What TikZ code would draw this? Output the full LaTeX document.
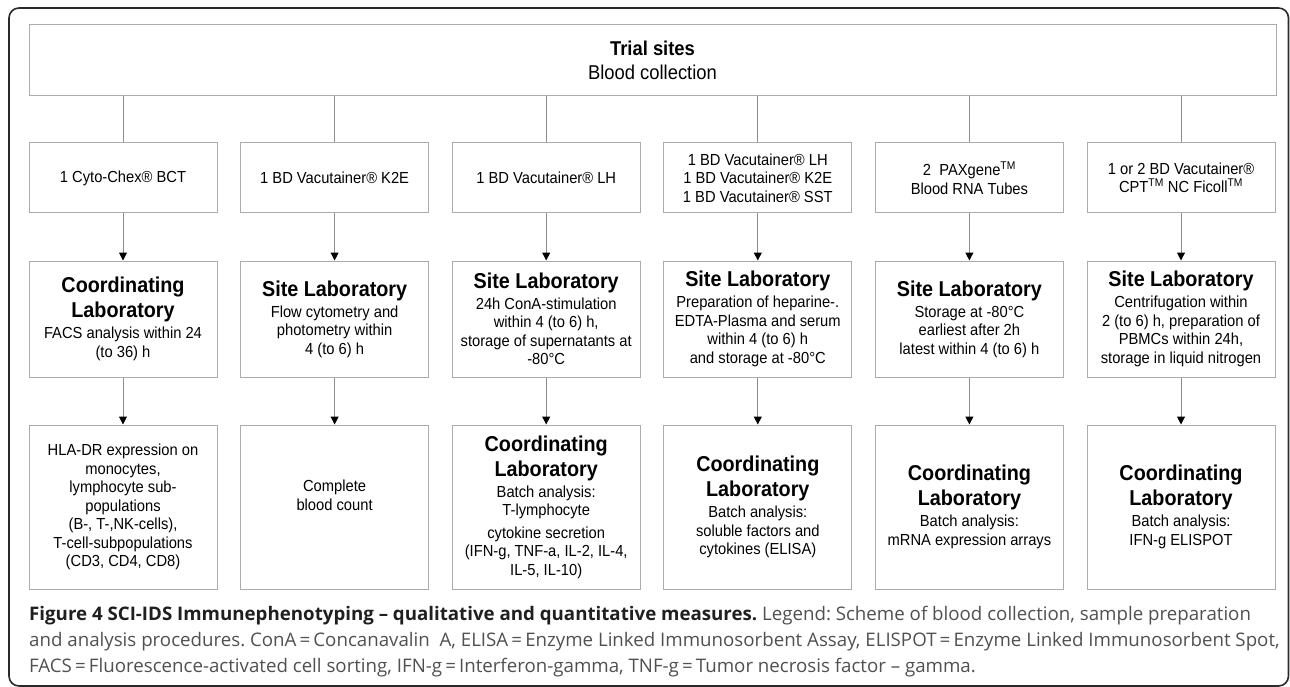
\documentclass[tikz,border=0pt]{standalone}
\usepackage{fontspec}
\setmainfont{Liberation Sans}[FakeStretch=0.92]
\newfontfamily\capfont{Open Sans}
\usetikzlibrary{arrows.meta}
\definecolor{boxgray}{HTML}{ABABAB}
\definecolor{linegray}{HTML}{8C8C8C}
\definecolor{framec}{HTML}{2A2A2A}
\definecolor{capc}{HTML}{505050}
\newcommand\hd[1]{{\fontsize{21.5}{24}\selectfont\bfseries #1}}
\frenchspacing
\tikzset{
 box/.style={draw=boxgray, line width=1pt, minimum width=188pt, inner sep=0pt, align=center, font=\fontsize{16}{18.5}\selectfont},
 rowone/.style={box, minimum height=70pt},
 rowtwo/.style={box, minimum height=116pt},
 rowthree/.style={box, minimum height=164pt},
 conn/.style={draw=linegray, line width=1pt},
 arr/.style={conn, -{Triangle[width=8pt,length=8pt,color=black]}},
 capline/.style={anchor=base west, inner sep=0pt, font=\capfont\fontsize{18.7}{22}\selectfont\frenchspacing, text=capc},
}
\begin{document}
\begin{tikzpicture}[x=1pt,y=-1pt]
\useasboundingbox (0,0) rectangle (1290,687);
\draw[framec, line width=1.6pt, rounded corners=10pt] (9,8) rectangle (1288.5,686);
\node[box, minimum width=1247pt, minimum height=71pt, font=\fontsize{20}{24}\selectfont] (top) at (652.5,60.5) {\textbf{Trial sites}\\Blood collection};
% row 1
\node[rowone] (s1) at (123,178) {1 Cyto-Chex® BCT};
\node[rowone] (s2) at (334.6,178) {1 BD Vacutainer® K2E};
\node[rowone] (s3) at (546.2,178) {1 BD Vacutainer® LH};
\node[rowone] (s4) at (757.8,178) {1 BD Vacutainer® LH\\1 BD Vacutainer® K2E\\1 BD Vacutainer® SST};
\node[rowone] (s5) at (969.4,178) {2\ \ PAXgene\textsuperscript{TM}\\Blood RNA Tubes};
\node[rowone] (s6) at (1181,178) {1 or 2 BD Vacutainer®\\CPT\textsuperscript{TM} NC Ficoll\textsuperscript{TM}};
% row 2
\node[rowtwo] (p1) at (123,319) {\hd{Coordinating}\\[3.8pt]\hd{Laboratory}\\[2.5pt]FACS analysis within 24\\(to 36) h};
\node[rowtwo] (p2) at (334.6,319) {\hd{Site Laboratory}\\[2.5pt]Flow cytometry and\\photometry within\\4 (to 6) h};
\node[rowtwo] (p3) at (546.2,319) {\hd{Site Laboratory}\\[2.5pt]24h ConA-stimulation\\within 4 (to 6) h,\\storage of supernatants at\\-80°C};
\node[rowtwo] (p4) at (757.8,319) {\hd{Site Laboratory}\\[2.5pt]Preparation of heparine-.\\EDTA-Plasma and serum\\within 4 (to 6) h\\and storage at -80°C};
\node[rowtwo] (p5) at (969.4,319) {\hd{Site Laboratory}\\[2.5pt]Storage at -80°C\\earliest after 2h\\latest within 4 (to 6) h};
\node[rowtwo] (p6) at (1181,319) {\hd{Site Laboratory}\\[2.5pt]Centrifugation within\\2 (to 6) h, preparation of\\PBMCs within 24h,\\storage in liquid nitrogen};
% row 3
\node[rowthree] (a1) at (123,507) {HLA-DR expression on\\monocytes,\\lymphocyte sub-\\populations\\(B-, T-,NK-cells),\\T-cell-subpopulations\\(CD3, CD4, CD8)};
\node[rowthree] (a2) at (334.6,507) {Complete\\blood count\\\strut};
\node[rowthree] (a3) at (546.2,507) {\hd{Coordinating}\\[3.8pt]\hd{Laboratory}\\[2.5pt]Batch analysis:\\T-lymphocyte\\[3.8pt]cytokine secretion\\(IFN-g, TNF-a, IL-2, IL-4,\\IL-5, IL-10)};
\node[rowthree] (a4) at (757.8,507) {\hd{Coordinating}\\[3.8pt]\hd{Laboratory}\\[2.5pt]Batch analysis:\\soluble factors and\\cytokines (ELISA)};
\node[rowthree] (a5) at (969.4,507) {\hd{Coordinating}\\[3.8pt]\hd{Laboratory}\\[2.5pt]Batch analysis:\\mRNA expression arrays};
\node[rowthree] (a6) at (1181,507) {\hd{Coordinating}\\[3.8pt]\hd{Laboratory}\\[2.5pt]Batch analysis:\\IFN-g ELISPOT};
% connectors
\foreach \i in {1,...,6}{
  \draw[conn] (top.south -| s\i.north) -- (s\i.north);
  \draw[arr] (s\i.south) -- (p\i.north);
  \draw[arr] (p\i.south) -- (a\i.north);
}
% caption
\node[capline] (cap1) at (29,620) {\textbf{\color{black!88}Figure 4 SCI-IDS Immunephenotyping – qualitative and quantitative measures.} Legend: Scheme of blood collection, sample preparation};
\node[capline] (cap2) at (29,646) {and analysis procedures. ConA\,=\,Concanavalin\ \ A, ELISA\,=\,Enzyme Linked Immunosorbent Assay, ELISPOT\,=\,Enzyme Linked Immunosorbent Spot,};
\node[capline] (cap3) at (29,672) {FACS\,=\,Fluorescence-activated cell sorting, IFN-g\,=\,Interferon-gamma, TNF-g\,=\,Tumor necrosis factor – gamma.};
\end{tikzpicture}
\end{document}
